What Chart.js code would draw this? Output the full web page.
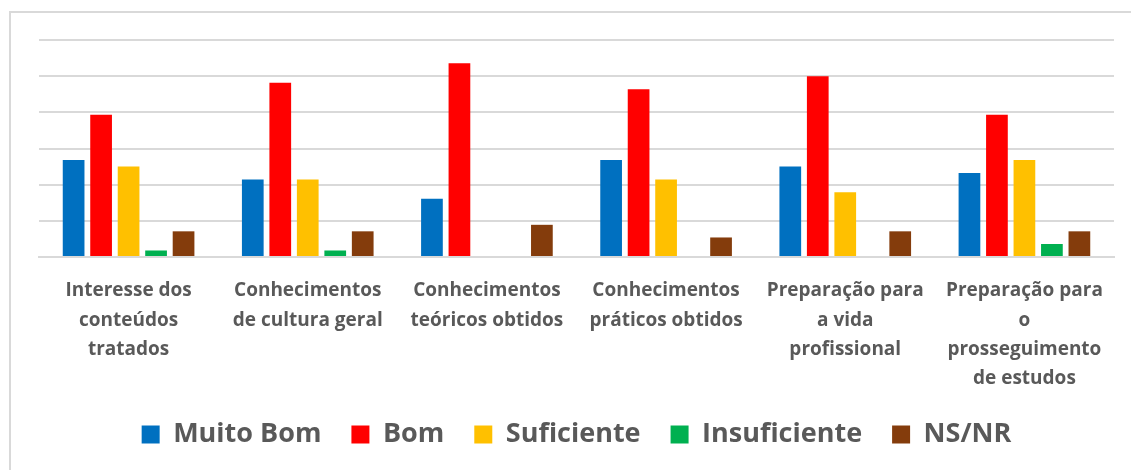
<!DOCTYPE html>
<html lang="pt">
<head>
  <meta charset="UTF-8">
  <title>Avaliação</title>
  <script src="https://cdn.jsdelivr.net/npm/chart.js"></script>
  <style>
    body {
      margin: 0;
      background: #fff;
    }
    .wrap {
      position: relative;
      width: 1131px;
      height: 470px;
      overflow: hidden;
    }
    .frame {
      position: absolute;
      left: 9px;
      top: 11px;
      width: 1200px;
      height: 600px;
      border-left: 2px solid #d9d9d9;
      border-top: 2px solid #d9d9d9;
    }
    canvas {
      position: absolute;
      left: 0;
      top: 0;
    }
  </style>
</head>
<body>
  <div class="wrap">
    <div class="frame"></div>
    <canvas id="chart" width="1131" height="470"></canvas>
  </div>

  <script>
    const categories = [
      ['Interesse dos', 'conteúdos', 'tratados'],
      ['Conhecimentos', 'de cultura geral'],
      ['Conhecimentos', 'teóricos obtidos'],
      ['Conhecimentos', 'práticos obtidos'],
      ['Preparação para', 'a vida', 'profissional'],
      ['Preparação para', 'o', 'prosseguimento', 'de estudos']
    ];

    // percentagens
    const muitoBom = [26.8, 21.4, 16.1, 26.8, 25.0, 23.2];
    const bom = [39.3, 48.2, 53.6, 46.4, 50.0, 39.3];
    const suficiente = [25.0, 21.4, 0, 21.4, 17.9, 26.8];
    const insuficiente = [1.8, 1.8, 0, 0, 0, 3.6];
    const nsnr = [7.1, 7.1, 8.9, 5.4, 7.1, 7.1];

    const textColor = '#595959';
    const gridColor = '#d9d9d9';

    new Chart(document.getElementById('chart').getContext('2d'), {
      type: 'bar',
      data: {
        labels: categories,
        datasets: [
          { label: 'Muito Bom', data: muitoBom, backgroundColor: '#0070C0' },
          { label: 'Bom', data: bom, backgroundColor: '#FF0000' },
          { label: 'Suficiente', data: suficiente, backgroundColor: '#FFC000' },
          { label: 'Insuficiente', data: insuficiente, backgroundColor: '#00B050' },
          { label: 'NS/NR', data: nsnr, backgroundColor: '#843C0C' }
        ]
      },
      options: {
        responsive: false,
        animation: false,
        categoryPercentage: 0.767,
        barPercentage: 0.79,
        layout: {
          padding: { left: 39, right: 17, top: 40, bottom: 12 }
        },
        plugins: {
          legend: {
            position: 'bottom',
            labels: {
              boxWidth: 18,
              boxHeight: 18,
              padding: 30,
              color: textColor,
              font: { family: 'Open Sans', weight: 'bold', size: 27 }
            }
          },
          tooltip: { enabled: false }
        },
        scales: {
          x: {
            grid: { display: false },
            border: { color: gridColor, width: 2 },
            ticks: {
              color: textColor,
              maxRotation: 0,
              autoSkip: false,
              padding: 11,
              font: { family: 'Open Sans', weight: 'bold', size: 19, lineHeight: 1.55 }
            },
            afterFit: (scale) => { scale.height = 134; }
          },
          y: {
            min: 0,
            max: 60,
            ticks: { stepSize: 10, display: false },
            border: { display: false },
            grid: { color: gridColor, lineWidth: 2, drawTicks: false }
          }
        }
      }
    });
  </script>
</body>
</html>
